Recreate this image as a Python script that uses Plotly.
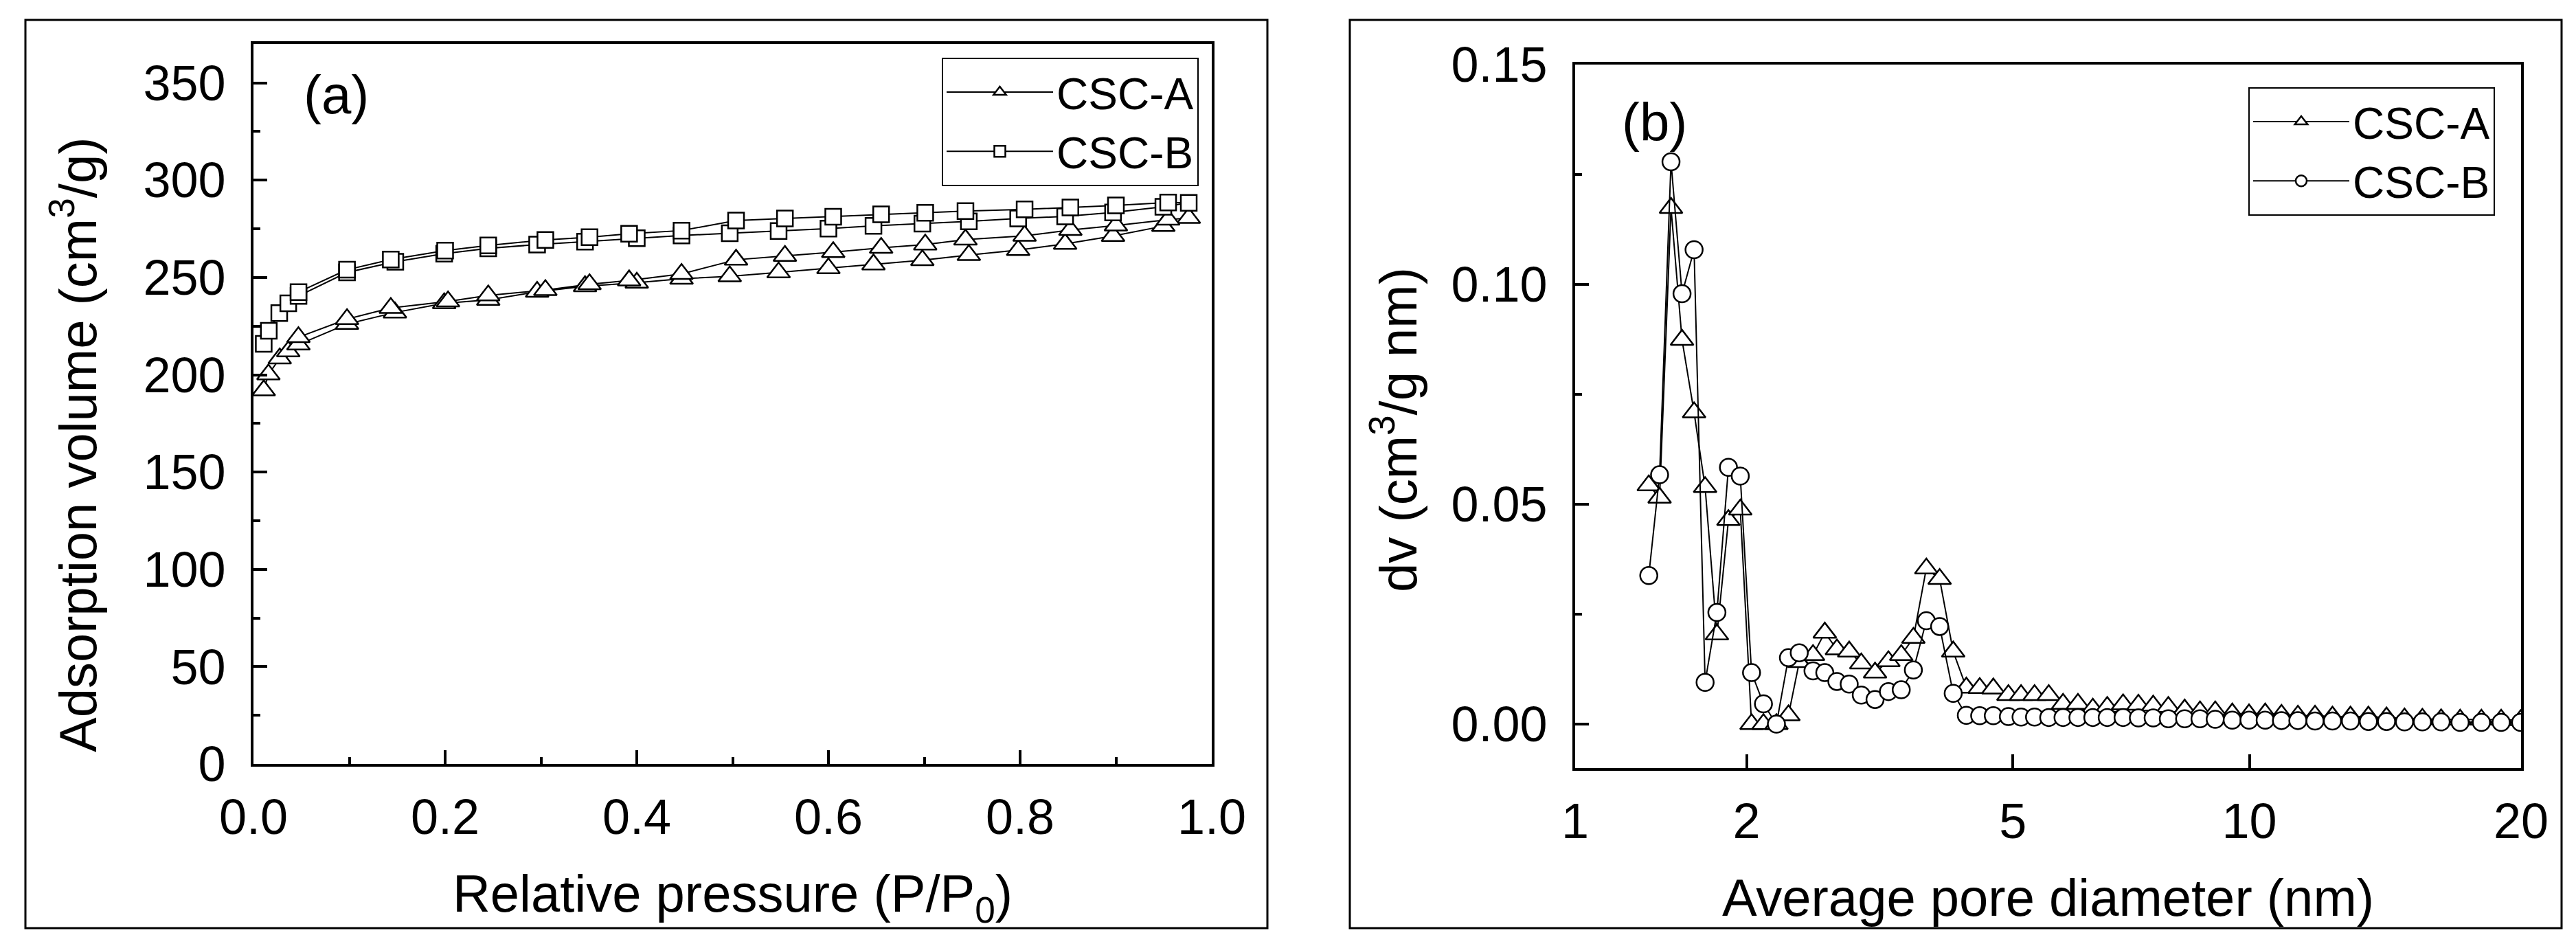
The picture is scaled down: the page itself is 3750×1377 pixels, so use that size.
import numpy as np
import plotly.graph_objects as go

# ---- (a) N2 isotherms, adsorption branch then desorption branch ----
p_ads_a = [0.0107, 0.0156, 0.0274, 0.0363, 0.0469, 0.0976, 0.1476, 0.199, 0.245, 0.296,
           0.346, 0.400, 0.4467, 0.497, 0.548, 0.600, 0.647, 0.698, 0.7465, 0.798,
           0.847, 0.897, 0.9495, 0.976]
v_ads_a = [192.0, 200.2, 208.4, 212.0, 215.5, 226.1, 232.0, 236.7, 238.5, 242.6,
           245.5, 247.3, 249.3, 250.6, 252.6, 254.7, 256.7, 258.9, 261.5, 264.1,
           267.3, 271.3, 276.4, 280.6]
p_des_a = [0.9545, 0.900, 0.8525, 0.8047, 0.743, 0.701, 0.655, 0.605, 0.5546, 0.5036,
           0.4467, 0.392, 0.3507, 0.3046, 0.245, 0.203, 0.1433, 0.0976, 0.0469]
v_des_a = [279.7, 276.7, 274.4, 271.4, 269.5, 266.9, 265.2, 263.0, 261.1, 259.1,
           251.8, 248.5, 246.5, 243.5, 240.8, 237.7, 234.3, 228.6, 219.3]

p_ads_b = [0.0107, 0.016, 0.0269, 0.0363, 0.047, 0.0976, 0.148, 0.199, 0.245, 0.296,
           0.346, 0.400, 0.4467, 0.497, 0.548, 0.600, 0.647, 0.698, 0.7465, 0.798,
           0.847, 0.897, 0.9495, 0.976]
v_ads_b = [215.9, 222.6, 231.7, 236.7, 240.5, 252.6, 258.1, 262.2, 265.0, 266.9,
           268.4, 270.2, 271.6, 272.7, 273.9, 275.1, 276.5, 277.7, 278.8, 280.3,
           281.4, 283.4, 286.3, 288.4]
p_des_b = [0.9545, 0.900, 0.8525, 0.8047, 0.743, 0.701, 0.655, 0.605, 0.5546, 0.5036,
           0.4467, 0.392, 0.3507, 0.3046, 0.245, 0.200, 0.1433, 0.0976, 0.047]
v_des_b = [288.5, 287.0, 286.0, 285.0, 284.1, 283.2, 282.4, 281.2, 280.3, 279.3,
           274.1, 272.5, 270.7, 269.3, 266.5, 263.8, 259.2, 254.0, 242.5]

# ---- (b) pore size distribution ----
pore_d = [1.363, 1.424, 1.491, 1.558, 1.634, 1.706, 1.786, 1.867, 1.953, 2.038,
          2.131, 2.236, 2.337, 2.431, 2.555, 2.665, 2.782, 2.905, 3.03, 3.178,
          3.327, 3.475, 3.62, 3.78, 3.95, 4.13, 4.31, 4.50, 4.70, 4.93,
          5.13, 5.35, 5.59, 5.84, 6.11, 6.39, 6.67, 6.99, 7.31, 7.63,
          7.97, 8.35, 8.72, 9.10, 9.54, 9.99, 10.44, 10.91, 11.40, 11.93,
          12.49, 13.09, 13.71, 14.36, 15.03, 15.72, 16.47, 17.26, 18.18, 19.07,
          19.98]
dv_a = [0.0543, 0.0515, 0.1174, 0.0874, 0.0709, 0.0539, 0.0204, 0.0464, 0.0488, 0.0,
        0.0, 0.0, 0.0020, 0.0141, 0.0157, 0.0208, 0.0170, 0.0165, 0.0138, 0.0117,
        0.0143, 0.0157, 0.0196, 0.0354, 0.0330, 0.0165, 0.0083, 0.0082, 0.0081, 0.0066,
        0.0066, 0.0066, 0.0066, 0.0046, 0.0046, 0.0035, 0.0039, 0.0045, 0.0044, 0.0042,
        0.0039, 0.0033, 0.0029, 0.0029, 0.0024, 0.0022, 0.0024, 0.0021, 0.0019, 0.0019,
        0.0017, 0.0017, 0.0017, 0.0015, 0.0013, 0.0012, 0.0011, 0.0010, 0.0010, 0.0010,
        0.0009]
dv_b = [0.0338, 0.0567, 0.1279, 0.0979, 0.1079, 0.0095, 0.0254, 0.0584, 0.0564, 0.0117,
        0.0046, 0.0, 0.0151, 0.0162, 0.0121, 0.0117, 0.0097, 0.0091, 0.0066, 0.0056,
        0.0074, 0.0078, 0.0123, 0.0235, 0.0222, 0.0070, 0.0020, 0.0019, 0.0019, 0.0017,
        0.0016, 0.0016, 0.0015, 0.0015, 0.0015, 0.0015, 0.0015, 0.0015, 0.0014, 0.0014,
        0.0012, 0.0012, 0.0012, 0.0011, 0.0009, 0.0009, 0.0009, 0.0008, 0.0008, 0.0007,
        0.0007, 0.0007, 0.0006, 0.0006, 0.0005, 0.0005, 0.0005, 0.0004, 0.0004, 0.0004,
        0.0004]
pore_ticks = [1, 2, 5, 10, 20]

# the original x axis of (b) is neither linear nor log; a power 0.2 scale fits its ticks
POW = 0.2
pore_x = np.array(pore_d) ** POW
tick_x = np.array(pore_ticks, dtype=float) ** POW

W, H = 3750, 1377
FONT = "Liberation Sans, Arial, sans-serif"


def marker(symbol, size):
    return dict(symbol=symbol, size=size, color="white", line=dict(color="black", width=2.5))


fig = go.Figure()
fig.add_trace(go.Scatter(x=p_ads_a + p_des_a, y=v_ads_a + v_des_a, name="CSC-A",
                         mode="lines+markers", line=dict(color="black", width=2),
                         marker=marker("triangle-up", 29), cliponaxis=False,
                         xaxis="x", yaxis="y", legend="legend"))
fig.add_trace(go.Scatter(x=p_ads_b + p_des_b, y=v_ads_b + v_des_b, name="CSC-B",
                         mode="lines+markers", line=dict(color="black", width=2),
                         marker=marker("square", 23), cliponaxis=False,
                         xaxis="x", yaxis="y", legend="legend"))
fig.add_trace(go.Scatter(x=pore_x, y=dv_a, name="CSC-A",
                         mode="lines+markers", line=dict(color="black", width=2),
                         marker=marker("triangle-up", 29),
                         xaxis="x2", yaxis="y2", legend="legend2"))
fig.add_trace(go.Scatter(x=pore_x, y=dv_b, name="CSC-B",
                         mode="lines+markers", line=dict(color="black", width=2),
                         marker=marker("circle", 25),
                         xaxis="x2", yaxis="y2", legend="legend2"))

ax = dict(showline=True, linecolor="black", linewidth=4, mirror=True,
          ticks="inside", ticklen=20, tickwidth=4, tickcolor="black",
          showgrid=False, zeroline=False, automargin=False,
          tickfont=dict(family=FONT, size=72, color="black"))
minor = dict(ticks="inside", ticklen=10, tickwidth=4, tickcolor="black")


def title(text, standoff):
    return dict(text=text, standoff=standoff, font=dict(family=FONT, size=76, color="black"))


fig.update_layout(
    width=W, height=H,
    margin=dict(l=0, r=0, t=0, b=0, autoexpand=False),
    paper_bgcolor="white", plot_bgcolor="white",
    font=dict(family=FONT, size=72, color="black"),
    xaxis=dict(ax, domain=[369 / W, 1764 / W], anchor="y", range=[0, 1],
               tick0=0, dtick=0.2, tickformat=".1f", ticklabelstandoff=12,
               minor=dict(minor, dtick=0.1),
               title=title("Relative pressure (P/P<sub>0</sub>)", 46)),
    yaxis=dict(ax, domain=[1 - 1112 / H, 1 - 64 / H], anchor="x", range=[0, 370],
               tick0=0, dtick=50, ticklabelstandoff=22,
               minor=dict(minor, dtick=25)),
    xaxis2=dict(ax, domain=[2293 / W, 3670 / W], anchor="y2", range=[1, 20 ** POW],
                tickmode="array", tickvals=tick_x, ticktext=[str(t) for t in pore_ticks],
                ticklabelstandoff=12,
                title=title("Average pore diameter (nm)", 46)),
    yaxis2=dict(ax, domain=[1 - 1118 / H, 1 - 94 / H], anchor="x2", range=[-0.01, 0.15],
                tick0=0, dtick=0.05, tickformat=".2f", ticklabelstandoff=22,
                minor=dict(minor, dtick=0.025)),
    legend=dict(x=1745 / W, y=1 - 84 / H, xanchor="right", yanchor="top",
                bgcolor="white", bordercolor="black", borderwidth=2,
                font=dict(family=FONT, size=64, color="black"), itemwidth=155),
    legend2=dict(x=3632 / W, y=1 - 127 / H, xanchor="right", yanchor="top",
                 bgcolor="white", bordercolor="black", borderwidth=2,
                 font=dict(family=FONT, size=64, color="black"), itemwidth=140),
)

# outer frames around each panel
for x0, x1 in [(37, 1845), (1965, 3729)]:
    fig.add_shape(type="rect", xref="paper", yref="paper",
                  x0=x0 / W, x1=x1 / W, y0=1 - 1351 / H, y1=1 - 29 / H,
                  line=dict(color="black", width=3))

# y titles sit a little off the axis centre in the original, so place them by hand
labels = [
    (108, 648, -90, 76, "Adsorption volume (cm<sup>3</sup>/g)"),
    (2030, 626, -90, 76, "dv (cm<sup>3</sup>/g nm)"),
    (490, 138, 0, 78, "(a)"),
    (2408, 178, 0, 78, "(b)"),
]
for x, y, ang, size, text in labels:
    fig.add_annotation(x=x / W, y=1 - y / H, xref="paper", yref="paper", text=text,
                       textangle=ang, showarrow=False, xanchor="center", yanchor="middle",
                       font=dict(family=FONT, size=size, color="black"))

fig.write_html("out.html", config={"displayModeBar": False},
               post_script="document.body.style.margin='0';")
